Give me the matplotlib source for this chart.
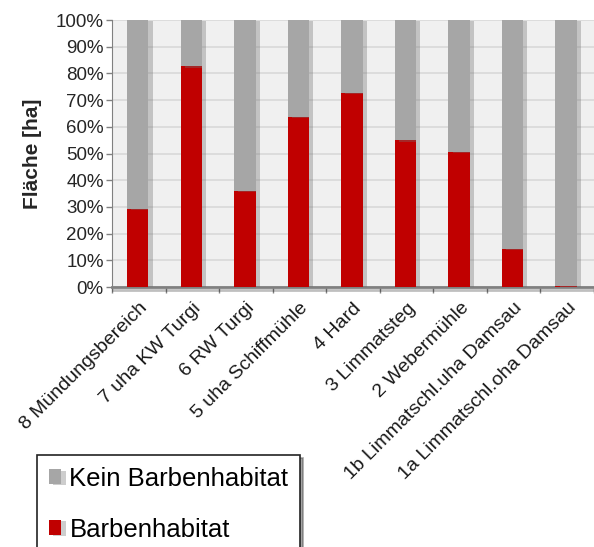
import matplotlib.pyplot as plt
import matplotlib.patheffects as pe
import numpy as np

plt.rcParams['font.family'] = ['Liberation Sans', 'DejaVu Sans']

# data (percent)
sites = ['8 Mündungsbereich', '7 uha KW Turgi', '6 RW Turgi', '5 uha Schiffmühle',
         '4 Hard', '3 Limmatsteg', '2 Webermühle', '1b Limmatschl.uha Damsau',
         '1a Limmatschl.oha Damsau']
barben = [29.2, 82.6, 36.0, 63.7, 72.7, 55.0, 50.6, 14.3, 0.3]
kein = [100 - v for v in barben]

red = '#c00000'
grey = '#a6a6a6'

fig = plt.figure(figsize=(5.94, 5.47), dpi=100)
ax = fig.add_axes([0.1886, 0.4753, 0.8114, 0.4881])
ax.set_facecolor('#f0f0f0')

x = np.arange(len(sites))
shadow = [pe.SimplePatchShadow(offset=(3, -1), alpha=0.35, shadow_rgbFace='#707070'), pe.Normal()]
b1 = ax.bar(x - 0.02, barben, width=0.4, color=red, label='Barbenhabitat', zorder=3)
b2 = ax.bar(x - 0.02, kein, width=0.4, bottom=barben, color=grey, label='Kein Barbenhabitat', zorder=3)
for p in list(b1) + list(b2):
    p.set_path_effects(shadow)

ax.set_xlim(-0.5, len(sites) - 0.5)
ax.set_ylim(0, 100)
ax.set_yticks(np.arange(0, 101, 10))
ax.set_yticklabels([f'{v}%' for v in range(0, 101, 10)], fontsize=13.5, color='#262626')
ax.yaxis.grid(True, color='#d9d9d9', linewidth=1.2, zorder=0)
ax.set_axisbelow(True)

ax.set_xticks(x)
ax.set_xticklabels(sites, rotation=45, ha='right', rotation_mode='anchor', fontsize=14, color='#1a1a1a')
ax.tick_params(axis='x', which='major', length=0, pad=9)
ax.set_xticks(np.arange(-0.5, len(sites), 1), minor=True)
ax.tick_params(axis='x', which='minor', length=4, color='#808080', width=1)
ax.tick_params(axis='y', length=4, color='#808080', width=1, pad=2)

for s in ['top', 'right']:
    ax.spines[s].set_visible(False)
ax.spines['left'].set_color('#808080')
ax.spines['bottom'].set_color('#808080')
ax.spines['bottom'].set_linewidth(2)
ax.spines['bottom'].set_path_effects([pe.SimpleLineShadow(offset=(1, -2), alpha=0.25), pe.Normal()])

ax.set_ylabel('Fläche [ha]', fontsize=15, fontweight='bold', color='#262626', labelpad=10)

# legend box runs past the bottom edge, as in the reference
leg = fig.legend(handles=[b2, b1], loc='upper left', bbox_to_anchor=(37 / 594, 1 - 455 / 547),
                 fontsize=18.5, frameon=True, fancybox=False, shadow=True, edgecolor='#222222',
                 handlelength=0.5, handleheight=0.5, handletextpad=0.31, labelspacing=1.05,
                 borderpad=0.45, borderaxespad=0)
leg.get_frame().set_linewidth(1.2)

fig.savefig('out.png', dpi=100)
